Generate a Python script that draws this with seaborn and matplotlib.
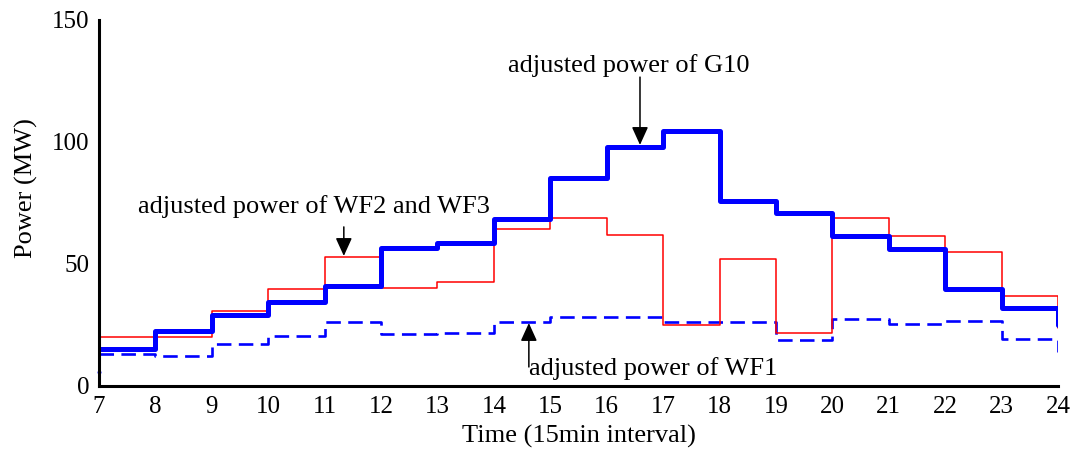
import numpy as np
import pandas as pd
import matplotlib
matplotlib.use("Agg")
import matplotlib.pyplot as plt
import seaborn as sns

# ---- data ----
hours = list(range(7, 25))  # step boundaries 7..24
g10 = [15.0, 22.7, 29.1, 34.6, 41.0, 56.7, 58.7, 68.4, 85.4, 97.8,
       104.4, 75.8, 71.0, 61.5, 56.0, 39.8, 31.8, 25.0]
wf23 = [20.1, 20.1, 30.6, 39.8, 53.0, 40.2, 42.8, 64.2, 68.9, 61.7,
        25.0, 51.9, 21.6, 69.0, 61.5, 54.8, 36.9, 23.8]
wf1_start = 5.7
wf1 = [13.0, 12.4, 17.1, 20.6, 26.4, 21.3, 21.6, 26.4, 28.1, 28.4,
       26.4, 26.4, 18.9, 27.3, 25.3, 26.8, 19.4, 14.0]
xticks = list(range(7, 25))
yticks = [0, 50, 100, 150]

sns.set_theme(style="white")
plt.rcParams['font.family'] = ['Liberation Serif', 'DejaVu Serif']
plt.rcParams['mathtext.fontset'] = 'stix'

fig = plt.figure(figsize=(10.8, 4.62), dpi=100)
ax = fig.add_axes([99/1080, 1-386/462, (1058-99)/1080, (386-20)/462])

df_wf23 = pd.DataFrame({"t": hours, "p": wf23})
df_g10 = pd.DataFrame({"t": hours, "p": g10})
df_wf1 = pd.DataFrame({"t": hours, "p": wf1})

sns.lineplot(data=df_wf1, x="t", y="p", ax=ax, color="#0000ff", lw=1.9,
             drawstyle="steps-post", estimator=None, sort=False,
             dashes=False, linestyle=(0, (5.5, 2.8)))
sns.scatterplot(x=[hours[0]], y=[wf1_start], ax=ax, color="#0000ff",
                s=8, linewidth=0, clip_on=False, zorder=5)
sns.lineplot(data=df_wf23, x="t", y="p", ax=ax, color="#ff0000", lw=1.1,
             drawstyle="steps-post", estimator=None, sort=False)
sns.lineplot(data=df_g10, x="t", y="p", ax=ax, color="#0000ff", lw=3.6,
             drawstyle="steps-post", estimator=None, sort=False)

ax.set_xlim(7, 24)
ax.set_ylim(0, 150)
ax.set_xticks(xticks)
ax.set_yticks(yticks)
ax.set_xticklabels([str(v) for v in xticks])
ax.set_yticklabels([str(v) for v in yticks])

for s in ["top", "right"]:
    ax.spines[s].set_visible(False)
for s in ["left", "bottom"]:
    ax.spines[s].set_color("black")
    ax.spines[s].set_linewidth(2.2)
    ax.spines[s].set_zorder(6)

ax.tick_params(axis="both", direction="in", length=7, width=1.5,
               color="black", labelsize=18, labelcolor="black")
ax.tick_params(axis="x", pad=7)
ax.tick_params(axis="y", pad=7)
for t, v in zip(ax.xaxis.get_major_ticks(), xticks):
    if v not in (8, 23, 24):
        t.tick1line.set_visible(False)

ax.set_xlabel("Time (15min interval)", fontsize=19, color="black")
ax.set_ylabel("Power (MW)", fontsize=19, color="black")
ax.xaxis.set_label_coords(0.5, -0.1066)
ax.yaxis.set_label_coords(-0.0636, 0.541)

arrow_style = "-|>,head_length=0.55,head_width=0.25"
ap = dict(arrowstyle=arrow_style, color="black", lw=1.1,
          mutation_scale=20, shrinkA=0, shrinkB=0)

ax.text(14.25, 128.7, "adjusted power of G10", fontsize=19, ha="left",
        va="baseline", color="black")
ax.annotate("", xy=(16.59, 98.8), xytext=(16.59, 126.6), arrowprops=ap)

ax.text(7.69, 70.9, "adjusted power of WF2 and WF3", fontsize=19,
        ha="left", va="baseline", color="black")
ax.annotate("", xy=(11.34, 53.3), xytext=(11.34, 65.2), arrowprops=ap)

ax.text(14.62, 4.5, "adjusted power of WF1", fontsize=19, ha="left",
        va="baseline", color="black")
ax.annotate("", xy=(14.62, 25.8), xytext=(14.62, 7.8), arrowprops=ap)

fig.savefig("out.png", dpi=100)
